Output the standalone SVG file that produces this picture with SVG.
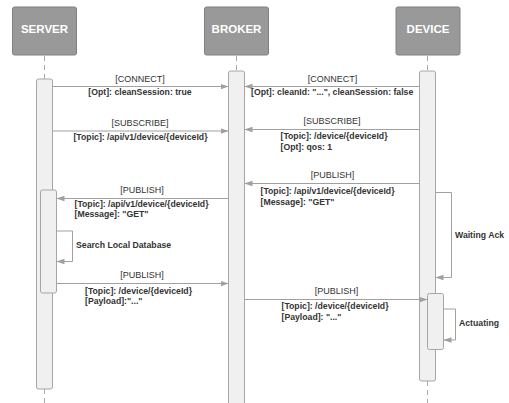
<svg xmlns="http://www.w3.org/2000/svg" width="509" height="403" viewBox="0 0 509 403">
<style>
.hdr{fill:#999999;stroke:#808080;stroke-width:1}
.hdrt{font-family:"Liberation Sans",Arial,sans-serif;font-weight:bold;font-size:11.5px;fill:#ffffff;text-anchor:middle}
.life{stroke:#a8a8a8;stroke-width:1;stroke-dasharray:5,4;fill:none}
.act{fill:#f0f0f0;stroke:#a6a6a6;stroke-width:1}
.msg{stroke:#a0a0a0;stroke-width:1;fill:none}
.nm{font-family:"Liberation Sans",Arial,sans-serif;font-size:9px;fill:#333333;text-anchor:middle}
.dt{font-family:"Liberation Sans",Arial,sans-serif;font-weight:bold;font-size:8.7px;fill:#333333}
.c{text-anchor:middle}
</style>
<defs>
<marker id="ah" viewBox="0 0 10 10" refX="10" refY="5" markerWidth="8" markerHeight="8" markerUnits="userSpaceOnUse" orient="auto">
<path d="M0,1.5 L10,5 L0,8.5 Z" fill="#a0a0a0"/>
</marker>
</defs>

<g id="server">
<rect class="hdr" x="12.5" y="7" width="64" height="48" rx="2"/>
<text class="hdrt" x="44.5" y="33">SERVER</text>
<line class="life" x1="44.5" y1="56" x2="44.5" y2="79"/>
<line class="life" x1="44.5" y1="389" x2="44.5" y2="403"/>
<rect class="act" x="36.5" y="79" width="16" height="310" rx="2"/>
<rect class="act" x="40.5" y="190" width="16" height="103" rx="2"/>
</g>

<g id="broker">
<rect class="hdr" x="204.5" y="7" width="64" height="48" rx="2"/>
<text class="hdrt" x="236.5" y="33">BROKER</text>
<line class="life" x1="236.5" y1="56" x2="236.5" y2="71"/>
<rect class="act" x="228.5" y="71" width="16" height="340" rx="2"/>
</g>

<g id="device">
<rect class="hdr" x="396" y="7" width="64" height="48" rx="2"/>
<text class="hdrt" x="428" y="33">DEVICE</text>
<line class="life" x1="427.5" y1="56" x2="427.5" y2="71"/>
<line class="life" x1="427.5" y1="381" x2="427.5" y2="403"/>
<rect class="act" x="419.5" y="71" width="16" height="310" rx="2"/>
<rect class="act" x="427.5" y="293.5" width="16" height="56" rx="2"/>
</g>

<g id="connectors">
<line class="msg" x1="52.5" y1="86.5" x2="228.5" y2="86.5" marker-end="url(#ah)"/>
<line class="msg" x1="419.5" y1="86.5" x2="244.5" y2="86.5" marker-end="url(#ah)"/>
<line class="msg" x1="52.5" y1="131" x2="228.5" y2="131" marker-end="url(#ah)"/>
<line class="msg" x1="419.5" y1="129.5" x2="244.5" y2="129.5" marker-end="url(#ah)"/>
<line class="msg" x1="419.5" y1="183.5" x2="244.5" y2="183.5" marker-end="url(#ah)"/>
<line class="msg" x1="228.5" y1="198.5" x2="56.5" y2="198.5" marker-end="url(#ah)"/>
<path class="msg" d="M56.5,231 H72.5 V261.5 H56.5" marker-end="url(#ah)"/>
<path class="msg" d="M435.5,192.5 H451.5 V277.5 H435.5" marker-end="url(#ah)"/>
<line class="msg" x1="56.5" y1="283.5" x2="228.5" y2="283.5" marker-end="url(#ah)"/>
<line class="msg" x1="244.5" y1="299.5" x2="427.5" y2="299.5" marker-end="url(#ah)"/>
<path class="msg" d="M443.5,309 H455.5 V340 H443.5" marker-end="url(#ah)"/>
</g>

<g id="labels">
<text class="nm" x="140" y="81.5">[CONNECT]</text>
<text class="dt c" x="140" y="95">[Opt]: cleanSession: true</text>
<text class="nm" x="332.5" y="81.5">[CONNECT]</text>
<text class="dt" x="251" y="95">[Opt]: cleanId: "...", cleanSession: false</text>
<text class="nm" x="140" y="125.5">[SUBSCRIBE]</text>
<text class="dt c" x="140.5" y="140">[Topic]: /api/v1/device/{deviceId}</text>
<text class="nm" x="332" y="124">[SUBSCRIBE]</text>
<text class="dt" x="280.5" y="138.5">[Topic]: /device/{deviceId}</text>
<text class="dt" x="280.5" y="150">[Opt]: qos: 1</text>
<text class="nm" x="332.5" y="178">[PUBLISH]</text>
<text class="dt" x="260.5" y="194">[Topic]: /api/v1/device/{deviceId}</text>
<text class="dt" x="260.5" y="204.5">[Message]: "GET"</text>
<text class="nm" x="142" y="193">[PUBLISH]</text>
<text class="dt" x="74.5" y="206.5">[Topic]: /api/v1/device/{deviceId}</text>
<text class="dt" x="74.5" y="216.5">[Message]: "GET"</text>
<text class="dt" x="76" y="248">Search Local Database</text>
<text class="dt" x="455" y="237.5">Waiting Ack</text>
<text class="nm" x="142" y="278">[PUBLISH]</text>
<text class="dt" x="85" y="293.5">[Topic]: /device/{deviceId}</text>
<text class="dt" x="85" y="304">[Payload]:"..."</text>
<text class="nm" x="336.5" y="294">[PUBLISH]</text>
<text class="dt" x="281.5" y="309">[Topic]: /device/{deviceId}</text>
<text class="dt" x="281.5" y="319.5">[Payload]: "..."</text>
<text class="dt" x="459" y="326">Actuating</text>
</g>
</svg>
